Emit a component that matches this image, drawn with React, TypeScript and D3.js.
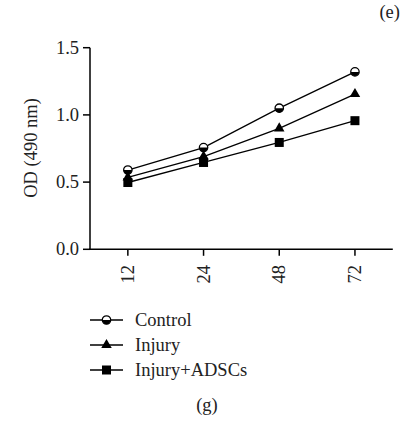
import React from "react";
import * as d3 from "d3";

const categories = ["12", "24", "48", "72"];
const yTicks = [0, 0.5, 1.0, 1.5];
const seriesNames = ["Control", "Injury", "Injury+ADSCs"];
const controlValues = [0.59, 0.757, 1.05, 1.32];
const injuryValues = [0.535, 0.69, 0.9, 1.155];
const adscValues = [0.497, 0.646, 0.795, 0.957];
const yLabel = "OD (490 nm)";
const panelTopLabel = "(e)";
const panelBottomLabel = "(g)";

const W = 401;
const H = 427;
const FONT = "'Liberation Serif', 'Times New Roman', serif";

export default function App() {
  const x = d3.scaleBand<string>().domain(categories).range([90, 392.8]).padding(0);
  const y = d3.scaleLinear().domain([0, 1.5]).range([249.3, 47.7]);
  const cx = (c: string) => (x(c) as number) + x.bandwidth() / 2;

  const series = [
    { name: seriesNames[0], values: controlValues, marker: "circle" },
    { name: seriesNames[1], values: injuryValues, marker: "triangle" },
    { name: seriesNames[2], values: adscValues, marker: "square" },
  ];

  const line = d3
    .line<number>()
    .x((_, i) => cx(categories[i]))
    .y((d) => y(d));

  const marker = (type: string, px: number, py: number, key: string) => {
    if (type === "circle") {
      const r = 4.2;
      return (
        <g key={key}>
          <circle cx={px} cy={py} r={r} fill="#fff" stroke="#000" strokeWidth={1.3} />
          <path
            d={`M${px - r},${py} A${r},${r} 0 0 0 ${px + r},${py} Z`}
            fill="#000"
          />
        </g>
      );
    }
    if (type === "triangle") {
      const sym = d3.symbol().type(d3.symbolTriangle).size(48)();
      return <path key={key} d={sym as string} transform={`translate(${px},${py})`} fill="#000" />;
    }
    const s = 9;
    return <rect key={key} x={px - s / 2} y={py - s / 2} width={s} height={s} fill="#000" />;
  };

  const legendY = [320, 345, 370];

  return (
    <svg
      width={W}
      height={H}
      style={{ position: "absolute", left: 0, top: 0, background: "#fff" }}
      fontFamily={FONT}
    >
      <rect x={0} y={0} width={W} height={H} fill="#fff" />
      {/* axes */}
      <line x1={90} x2={90} y1={y(1.5)} y2={y(0)} stroke="#000" strokeWidth={1.5} />
      <line x1={89.25} x2={392.8} y1={y(0)} y2={y(0)} stroke="#000" strokeWidth={1.5} />
      {yTicks.map((t) => (
        <g key={t}>
          <line x1={83} x2={90} y1={y(t)} y2={y(t)} stroke="#000" strokeWidth={1.5} />
          <text
            x={79}
            y={y(t)}
            textAnchor="end"
            dominantBaseline="central"
            fontSize={18.5}
            fill="#222"
          >
            {d3.format(".1f")(t)}
          </text>
        </g>
      ))}
      {categories.map((c) => (
        <g key={c}>
          <line x1={cx(c)} x2={cx(c)} y1={y(0)} y2={y(0) + 6.5} stroke="#000" strokeWidth={1.5} />
          <text
            transform={`translate(${cx(c)},${265}) rotate(-90)`}
            textAnchor="end"
            dominantBaseline="central"
            fontSize={18.5}
            fill="#222"
          >
            {c}
          </text>
        </g>
      ))}
      <text
        transform={`translate(31,${148}) rotate(-90)`}
        textAnchor="middle"
        dominantBaseline="central"
        fontSize={18.5}
        fill="#222"
      >
        {yLabel}
      </text>
      {/* series */}
      {series.map((s) => (
        <g key={s.name}>
          <path d={line(s.values) as string} fill="none" stroke="#000" strokeWidth={1.3} />
          {s.values.map((v, i) => marker(s.marker, cx(categories[i]), y(v), `${s.name}-${i}`))}
        </g>
      ))}
      {/* legend */}
      {series.map((s, i) => (
        <g key={`leg-${s.name}`}>
          <line x1={90} x2={123} y1={legendY[i]} y2={legendY[i]} stroke="#000" strokeWidth={1.5} />
          {marker(s.marker, 106.5, legendY[i], `leg-m-${i}`)}
          <text x={135} y={legendY[i]} dominantBaseline="central" fontSize={18.5} fill="#222">
            {s.name}
          </text>
        </g>
      ))}
      <text x={400} y={12} textAnchor="end" dominantBaseline="central" fontSize={18.5} fill="#222">
        {panelTopLabel}
      </text>
      <text x={207} y={405} textAnchor="middle" dominantBaseline="central" fontSize={18.5} fill="#222">
        {panelBottomLabel}
      </text>
    </svg>
  );
}
